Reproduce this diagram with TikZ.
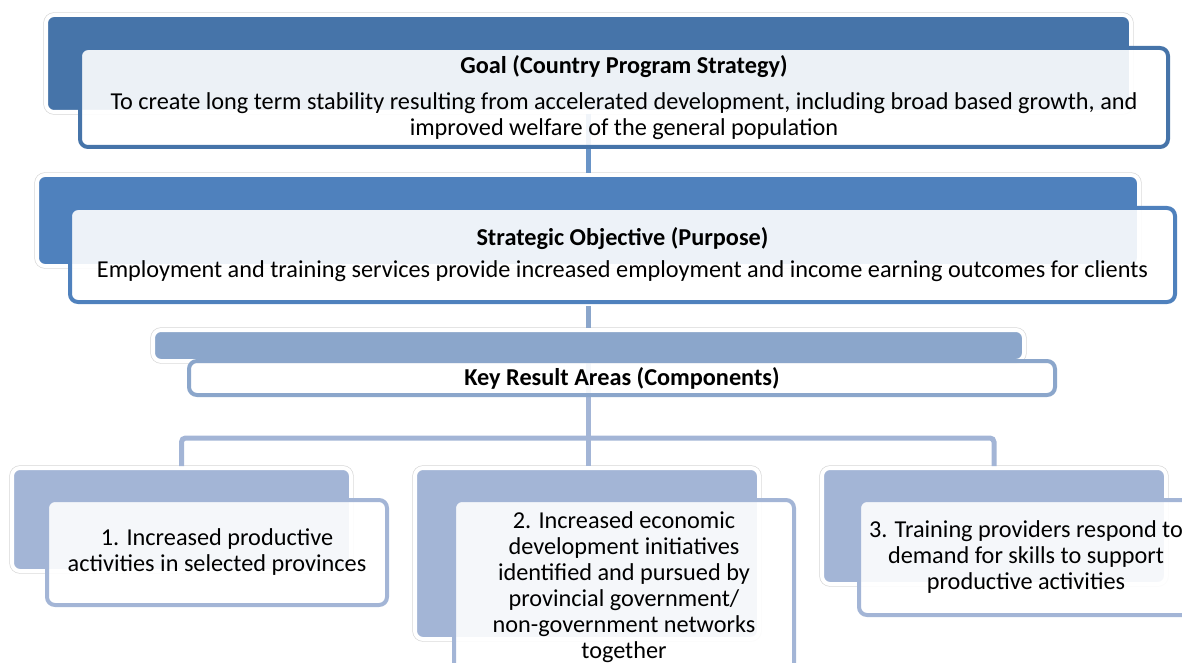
\documentclass[tikz,border=0pt]{standalone}
\usepackage{fontspec}
\setmainfont{Carlito}
\usetikzlibrary{positioning}
\newcommand{\pxu}{0.75pt}
\definecolor{goalblue}{RGB}{70,116,169}
\definecolor{objblue}{RGB}{79,129,189}
\definecolor{krablue}{RGB}{139,166,203}
\definecolor{compblue}{RGB}{163,181,214}
\tikzset{x=0.75pt, y=-0.75pt,
  backbox/.style={rounded corners=6pt, anchor=north west, inner sep=0pt,
    draw=white, line width=3pt, preaction={draw=black!16, line width=4pt}},
  frontbox/.style={rounded corners=6pt, anchor=north west, inner sep=3pt,
    fill=white, fill opacity=0.9, text opacity=1, line width=3pt, align=center,
    font=\fontsize{18.2}{19.5}\selectfont},
  conn/.style={line width=3.75pt, rounded corners=3pt}}

\begin{document}
\begin{tikzpicture}
\useasboundingbox (0,0) rectangle (1182,663);
\clip (0,0) rectangle (1182,663);
\node[backbox, fill=goalblue, minimum width=1085*\pxu, minimum height=97*\pxu] (goalback) at (44,13) {};
\node[backbox, fill=objblue, minimum width=1102*\pxu, minimum height=91*\pxu] (objback) at (35,173) {};
\node[backbox, fill=krablue, minimum width=871*\pxu, minimum height=31*\pxu] (kraback) at (151,328) {};
\node[backbox, fill=compblue, minimum width=339*\pxu, minimum height=103*\pxu] (c1back) at (10,466) {};
\node[backbox, fill=compblue, minimum width=344*\pxu, minimum height=171*\pxu] (c2back) at (413,466) {};
\node[backbox, fill=compblue, minimum width=344*\pxu, minimum height=116*\pxu] (c3back) at (820,466) {};
\coordinate (bus) at (586,438);
\draw[conn, draw=objblue!85!white] (goalback.south) -- (goalback.south |- objback.north);
\draw[conn, draw=krablue] ([yshift=-38*\pxu]objback.south) -- (objback.south |- kraback.north);
\draw[conn, draw=compblue] (kraback.south) -- (kraback.south |- c2back.north);
\draw[conn, draw=compblue] (c1back.north) |- (bus) -| (c3back.north);
\node[frontbox, draw=goalblue, minimum width=1088*\pxu, minimum height=99*\pxu] (goal) at (78,46)
  {\textbf{Goal (Country Program Strategy)}\\[7pt]
   To create long term stability resulting from accelerated development, including broad based growth, and\\
   improved welfare of the general population};
\node[frontbox, draw=objblue, minimum width=1105*\pxu, minimum height=94*\pxu] (obj) at (68,206)
  {\textbf{Strategic Objective (Purpose)}\\[4.5pt]
   Employment and training services provide increased employment and income earning outcomes for clients};
\node[frontbox, draw=krablue, minimum width=866*\pxu, minimum height=34*\pxu, inner sep=1pt] (kra) at (187,359)
  {\textbf{Key Result Areas (Components)}};
\node[frontbox, draw=compblue, minimum width=340*\pxu, minimum height=105*\pxu] (c1) at (45,498)
  {1. Increased productive\\ activities in selected provinces};
\node[frontbox, draw=compblue, minimum width=340*\pxu, minimum height=174*\pxu] (c2) at (452,498)
  {2. Increased economic\\ development initiatives\\ identified and pursued by\\ provincial government/\\ non-government networks\\ together};
\node[frontbox, draw=compblue, minimum width=334*\pxu, minimum height=115*\pxu] (c3) at (857,498)
  {3. Training providers respond to\\ demand for skills to support\\ productive activities};
\end{tikzpicture}
\end{document}
